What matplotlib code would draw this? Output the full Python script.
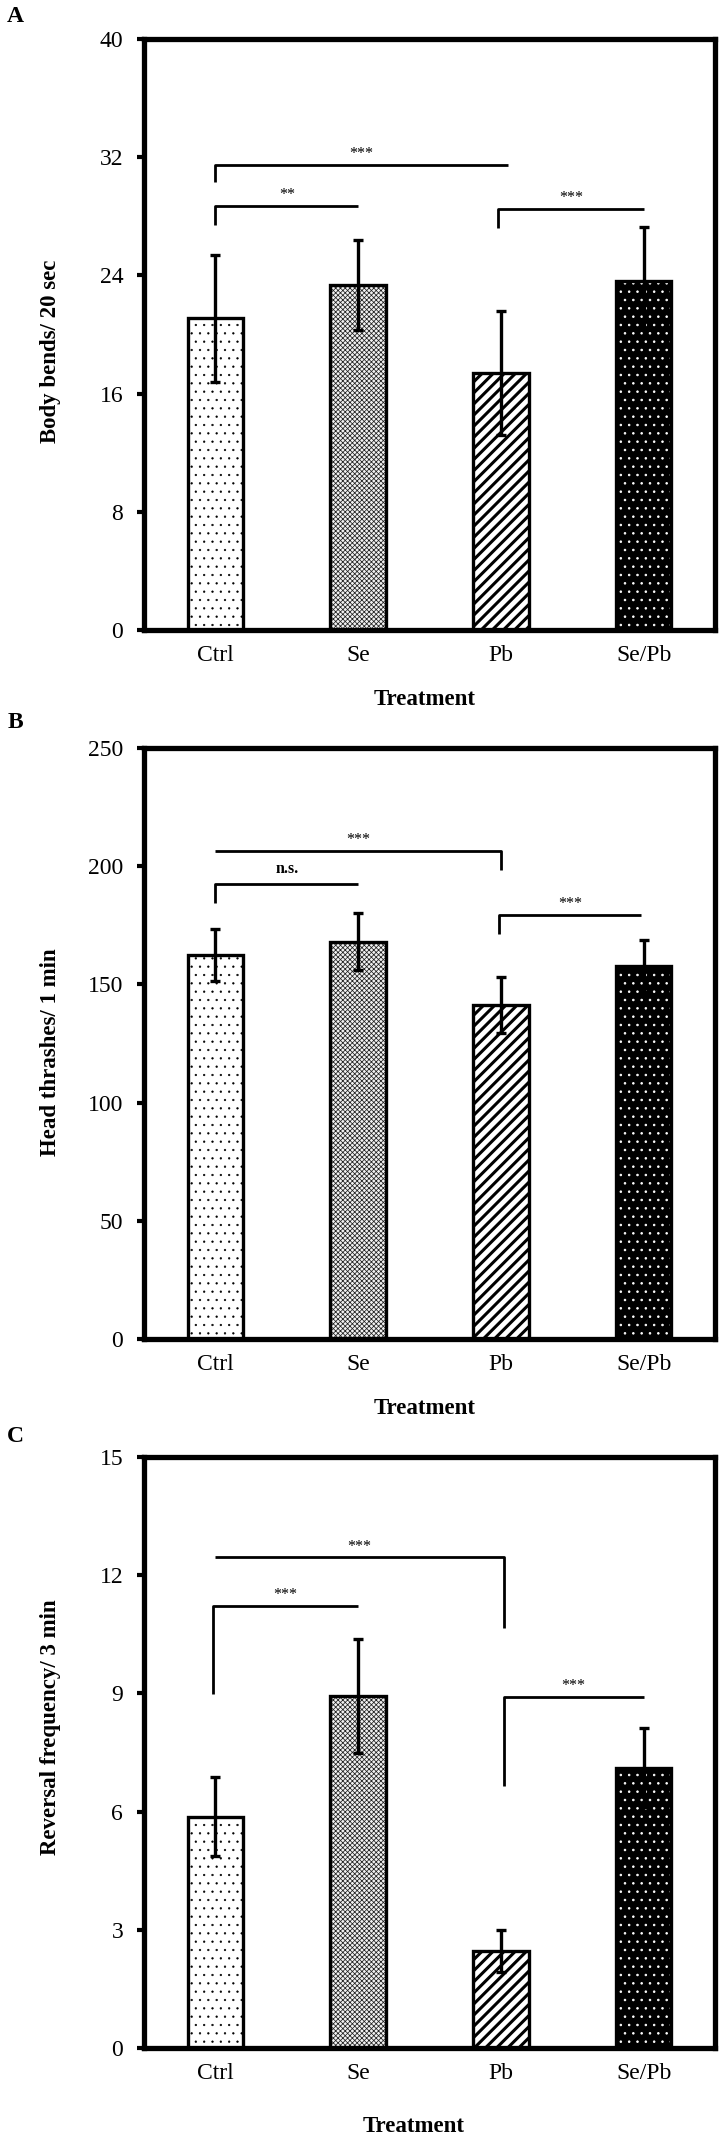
import matplotlib
matplotlib.use("Agg")
import matplotlib.pyplot as plt
import numpy as np

plt.rcParams['font.family'] = ['Liberation Serif', 'DejaVu Serif']

categories = ["Ctrl", "Se", "Pb", "Se/Pb"]

# Panel A: body bends / 20 sec
a_means = [21.1, 23.35, 17.4, 23.6]
a_errs = [4.3, 3.05, 4.2, 3.7]
a_ticks = [0, 8, 16, 24, 32, 40]
a_brackets = [  # x_left, x_right, y, left_drop_to, right_drop_to, label
    (0.0, 2.05, 31.5, 30.3, None, "***"),
    (0.0, 1.0, 28.7, 27.4, None, "**"),
    (1.98, 3.0, 28.5, 27.2, None, "***"),
]

# Panel B: head thrashes / 1 min
b_means = [162.4, 168.0, 141.3, 157.7]
b_errs = [11.0, 12.0, 12.0, 11.0]
b_ticks = [0, 50, 100, 150, 200, 250]
b_brackets = [
    (0.0, 2.0, 206.3, None, 198.6, "***"),
    (0.0, 1.0, 192.5, 184.4, None, "n.s."),
    (1.99, 2.98, 179.2, 171.4, None, "***"),
]

# Panel C: reversal frequency / 3 min
c_means = [5.87, 8.93, 2.47, 7.11]
c_errs = [1.0, 1.45, 0.53, 1.0]
c_ticks = [0, 3, 6, 9, 12, 15]
c_brackets = [
    (0.0, 2.02, 12.45, None, 10.67, "***"),
    (-0.02, 1.0, 11.23, 8.98, None, "***"),
    (2.02, 3.0, 8.92, 6.64, None, "***"),
]

W, H = 724, 2133
DPI = 100
fig = plt.figure(figsize=(W / DPI, H / DPI), dpi=DPI)

ax_left = 144 / W
ax_w = 571 / W
ax_h = 591 / H
panels = [
    ("A", a_means, a_errs, a_ticks, a_brackets, "Body bends/ 20 sec", 630, 17, 0.472, -0.118, 0.492),
    ("B", b_means, b_errs, b_ticks, b_brackets, "Head thrashes/ 1 min", 1339, 722, 0.486, -0.118, 0.492),
    ("C", c_means, c_errs, c_ticks, c_brackets, "Reversal frequency/ 3 min", 2048, 1437, 0.543, -0.132, 0.473),
]

styles = [
    dict(face="white", hcol="black", hatch="..", hlw=0.4),
    dict(face="#f2f2f2", hcol="#222222", hatch="xxxxxxx", hlw=0.55),
    dict(face="white", hcol="black", hatch="///", hlw=2.2),
    dict(face="black", hcol="white", hatch="..", hlw=0.6),
]

x = np.arange(len(categories))
bw = 0.39

for letter, means, errs, ticks, brackets, ylabel, bottom_px, letter_px, ylab_y, xlab_y, xlab_x in panels:
    ax = fig.add_axes([ax_left, 1 - bottom_px / H, ax_w, ax_h])
    for i, st in enumerate(styles):
        with plt.rc_context({'hatch.linewidth': st['hlw']}):
            ax.bar(x[i], means[i], width=bw, color=st['face'], edgecolor=st['hcol'],
                   hatch=st['hatch'], linewidth=0, zorder=2)
    ax.bar(x, means, width=bw, fill=False, edgecolor="black", linewidth=2.4, zorder=3)
    ax.errorbar(x, means, yerr=errs, fmt='none', ecolor='black', elinewidth=2.4,
                capsize=3.5, capthick=2.4, zorder=4)
    ymax = ticks[-1]
    for (x1, x2, y, yl, yr, lab) in brackets:
        xs, ys = [], []
        if yl is not None:
            xs.append(x1); ys.append(yl)
        xs += [x1, x2]; ys += [y, y]
        if yr is not None:
            xs.append(x2); ys.append(yr)
        ax.plot(xs, ys, color='black', lw=2.0, solid_capstyle='butt', zorder=5)
        if lab == "n.s.":
            ax.annotate(lab, xy=((x1 + x2) / 2, y), xytext=(0, 8), textcoords='offset points',
                        ha='center', va='baseline', fontsize=11.5, fontweight='bold')
        else:
            ax.annotate(lab, xy=((x1 + x2) / 2, y), xytext=(0, 5), textcoords='offset points',
                        ha='center', va='baseline', fontsize=11.5)
    ax.set_xlim(-0.5, 3.5)
    ax.set_ylim(0, ymax)
    ax.set_yticks(ticks)
    ax.set_xticks(x)
    ax.set_xticklabels(categories)
    for s in ax.spines.values():
        s.set_linewidth(3.8)
    ax.tick_params(axis='y', direction='out', length=5, width=3.0, pad=10, labelsize=17)
    ax.tick_params(axis='x', length=0, pad=11, labelsize=17)
    ax.set_ylabel(ylabel, fontsize=16.5, fontweight='bold')
    ax.yaxis.label.set_va('center')
    ax.yaxis.set_label_coords(-0.163, ylab_y)
    ax.set_xlabel("Treatment", fontsize=16.5, fontweight='bold')
    ax.xaxis.set_label_coords(xlab_x, xlab_y)
    ax.xaxis.label.set_va('center')
    fig.text(15 / W, 1 - letter_px / H, letter, fontsize=17, fontweight='bold',
             ha='center', va='center')

fig.savefig("out.png", dpi=DPI)
